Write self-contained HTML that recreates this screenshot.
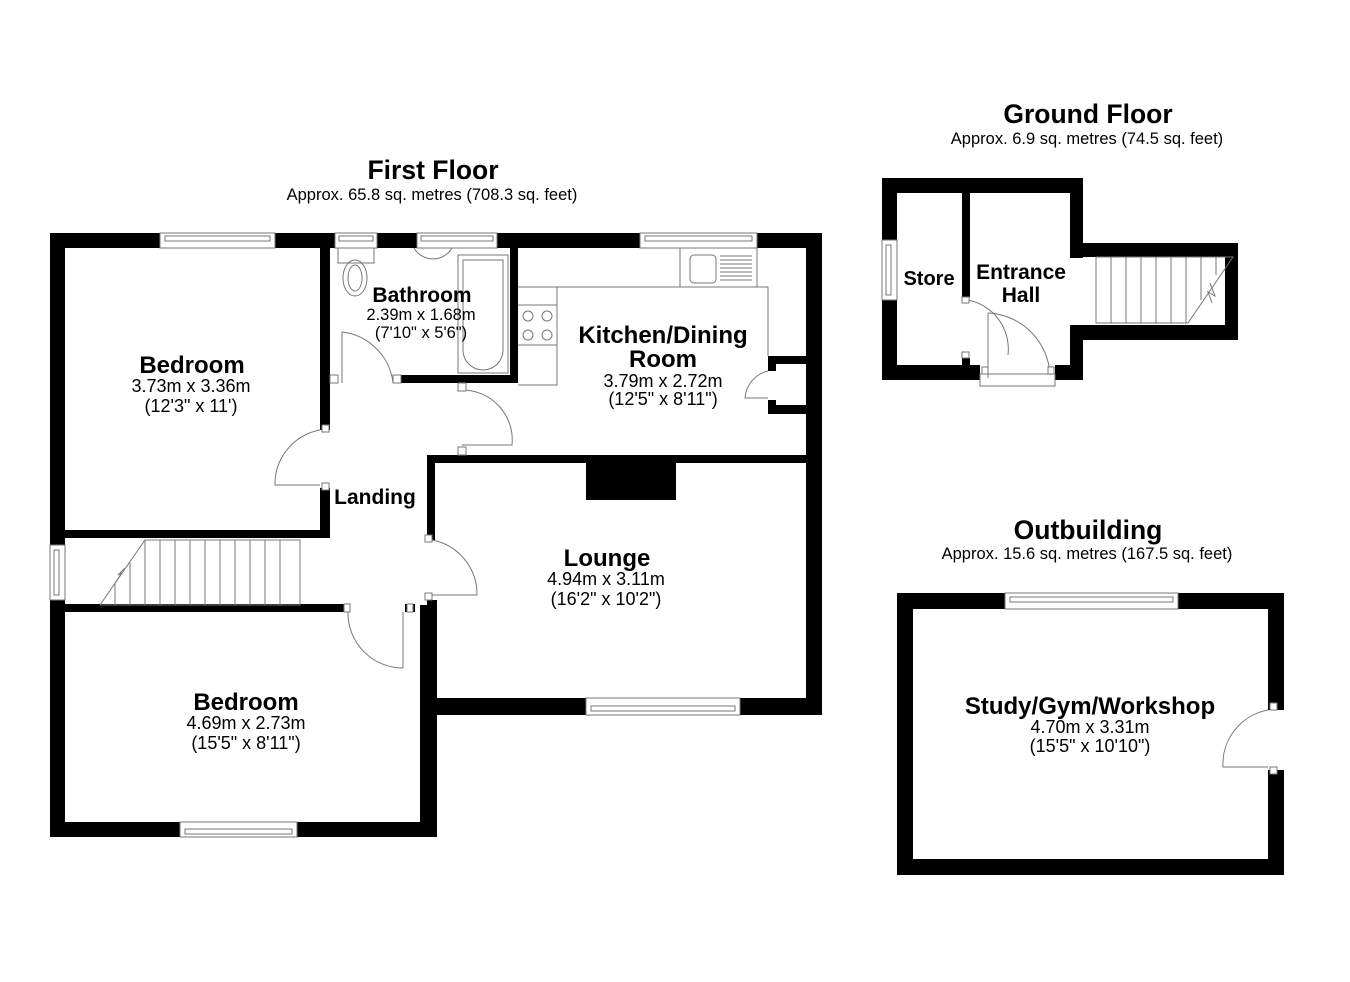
<!DOCTYPE html>
<html><head><meta charset="utf-8"><style>
html,body{margin:0;padding:0;background:#fff;}
svg{display:block;font-family:"Liberation Sans",Arial,sans-serif;}
.t{font-weight:bold;font-size:24px;text-anchor:middle;}
.s{font-size:18px;text-anchor:middle;}
.h{font-weight:bold;font-size:26.5px;text-anchor:middle;}
.l{fill:none;stroke:#777;stroke-width:1;}
</style></head><body>
<svg width="1350" height="982" viewBox="0 0 1350 982">
<rect width="1350" height="982" fill="#fff"/>
<!-- Headings -->
<text x="433" y="179" class="h">First Floor</text>
<text x="432" y="200" class="s" style="font-size:16.5px">Approx. 65.8 sq. metres (708.3 sq. feet)</text>
<text x="1088" y="123" class="h">Ground Floor</text>
<text x="1087" y="144" class="s" style="font-size:16.5px">Approx. 6.9 sq. metres (74.5 sq. feet)</text>
<text x="1088" y="539" class="h">Outbuilding</text>
<text x="1087" y="559" class="s" style="font-size:16.5px">Approx. 15.6 sq. metres (167.5 sq. feet)</text>

<g fill="#000">
<rect x="50" y="233" width="772" height="15"/>
<rect x="50" y="233" width="15" height="312"/>
<rect x="50" y="600" width="15" height="237"/>
<rect x="806" y="233" width="16" height="482"/>
<rect x="427" y="698" width="395" height="17"/>
<rect x="420" y="605" width="17" height="232"/>
<rect x="50" y="822" width="387" height="15"/>
<rect x="320" y="248" width="10" height="182"/>
<rect x="320" y="488" width="10" height="50"/>
<rect x="65" y="530" width="265" height="8"/>
<rect x="65" y="604" width="280" height="8"/>
<rect x="405" y="604" width="10" height="8"/>
<rect x="400" y="375" width="118" height="8"/>
<rect x="510" y="248" width="8" height="135"/>
<rect x="427" y="455" width="379" height="8"/>
<rect x="427" y="455" width="8" height="85"/>
<rect x="427" y="600" width="10" height="15"/>
<rect x="586" y="463" width="90" height="37"/>
<rect x="768" y="356" width="38" height="8"/>
<rect x="768" y="405" width="38" height="9"/>
<rect x="768" y="356" width="8" height="15"/>
<rect x="768" y="400" width="8" height="14"/>
<rect x="882" y="178" width="201" height="15"/>
<rect x="882" y="178" width="15" height="62"/>
<rect x="882" y="300" width="15" height="80"/>
<rect x="882" y="365" width="98" height="15"/>
<rect x="1055" y="365" width="28" height="15"/>
<rect x="1070" y="178" width="13" height="80"/>
<rect x="1070" y="325" width="13" height="55"/>
<rect x="1070" y="243" width="168" height="14"/>
<rect x="1225" y="243" width="13" height="97"/>
<rect x="1070" y="325" width="168" height="15"/>
<rect x="962" y="193" width="8" height="104"/>
<rect x="962" y="358" width="8" height="10"/>
<rect x="897" y="593" width="387" height="16"/>
<rect x="897" y="593" width="16" height="282"/>
<rect x="897" y="859" width="387" height="16"/>
<rect x="1268" y="593" width="16" height="117"/>
<rect x="1268" y="770" width="16" height="105"/>
</g>

<g fill="#fff" stroke="#777" stroke-width="1">
<rect x="160" y="233" width="115" height="15"/><rect x="165" y="236" width="105" height="5"/>
<rect x="335" y="233" width="42" height="15"/><rect x="339" y="236" width="34" height="5"/>
<rect x="417" y="233" width="80" height="15"/><rect x="421" y="236" width="72" height="5"/>
<rect x="640" y="233" width="117" height="15"/><rect x="645" y="236" width="107" height="5"/>
<rect x="180" y="822" width="117" height="15"/><rect x="185" y="829" width="107" height="5"/>
<rect x="586" y="698" width="154" height="17"/><rect x="591" y="706" width="144" height="5"/>
<rect x="50" y="545" width="15" height="55"/><rect x="54" y="550" width="5" height="45"/>
<rect x="882" y="240" width="15" height="60"/><rect x="886" y="245" width="5" height="50"/>
<rect x="980" y="374" width="75" height="12"/>
<rect x="1005" y="593" width="173" height="16"/><rect x="1010" y="597" width="163" height="5"/>
</g>

<g class="l">
<rect x="338" y="248" width="36" height="15"/>
<ellipse cx="355" cy="278" rx="12" ry="18"/><ellipse cx="355" cy="278" rx="7" ry="13"/>
<path d="M414 248 A22 22 0 0 0 452 248"/>
<rect x="458" y="255" width="50" height="118"/>
<path d="M463 260 L503 260 L503 350 A20 20 0 0 1 463 350 Z"/>
<rect x="680" y="248" width="77" height="39"/>
<rect x="690" y="255" width="26" height="28" rx="4"/>
<path d="M720 256h32M720 260h32M720 264h32M720 268h32M720 272h32M720 276h32M720 280h32"/>
<path d="M518 287 H768 V356 M557 287 V385 H518 M518 305 H557 M518 345 H557"/>
<circle cx="528" cy="316" r="5"/><circle cx="547" cy="316" r="5"/><circle cx="528" cy="335" r="5"/><circle cx="547" cy="335" r="5"/>
<path d="M342 383 V332 A58 58 0 0 1 393 383"/>
<path d="M320 430 A55 55 0 0 0 275 485 H320"/>
<path d="M462 390 A50 50 0 0 1 512 445 H462"/>
<path d="M432 540 A55 55 0 0 1 477 595 H432"/>
<path d="M348 612 A55 55 0 0 0 403 668 V612"/>
<path d="M768 371 A30 30 0 0 0 745 398 H768"/>
<path d="M968 300 A50 50 0 0 1 1008 355"/>
<path d="M988 313 A65 65 0 0 1 1050 375 M988 313 V378"/>
<path d="M1268 710 A55 55 0 0 0 1223 767 H1268"/>
<path d="M100 605 L145 540 H300 V605 H100"/>
<path d="M160 540V605M175 540V605M190 540V605M205 540V605M220 540V605M235 540V605M250 540V605M265 540V605M280 540V605M145 540V605M130 563V605M115 583V605"/>
<path d="M115 583 L122 573 L118 575 L125 568"/>
<path d="M1096 257 V323 H1188 L1233 257 H1096"/>
<path d="M1111 257V323M1126 257V323M1141 257V323M1156 257V323M1171 257V323M1186 257V323M1201 257V300M1216 257V275"/>
<path d="M1210 283 L1215 296 L1208 292 L1212 303"/>
</g>
<g fill="#fff" stroke="#777" stroke-width="1">
<rect x="330" y="375" width="8" height="8"/><rect x="393" y="375" width="8" height="8"/>
<rect x="322" y="425" width="7" height="7"/><rect x="322" y="483" width="7" height="7"/>
<rect x="458" y="383" width="8" height="8"/><rect x="458" y="447" width="8" height="8"/>
<rect x="425" y="535" width="7" height="7"/><rect x="425" y="593" width="7" height="7"/>
<rect x="344" y="604" width="6" height="8"/><rect x="407" y="604" width="6" height="8"/>
<rect x="962" y="297" width="7" height="6"/><rect x="962" y="352" width="7" height="6"/>
<rect x="982" y="367" width="6" height="7"/><rect x="1048" y="367" width="6" height="7"/>
<rect x="1270" y="703" width="7" height="7"/><rect x="1270" y="767" width="7" height="7"/>
</g>

<text x="192" y="373" class="t">Bedroom</text>
<text x="191" y="392" class="s">3.73m x 3.36m</text>
<text x="191" y="412" class="s">(12'3" x 11')</text>
<text x="422" y="302" class="t" style="font-size:21px">Bathroom</text>
<text x="421" y="320" class="s" style="font-size:16.5px">2.39m x 1.68m</text>
<text x="421" y="338" class="s" style="font-size:16.5px">(7'10" x 5'6")</text>
<text x="663" y="343" class="t">Kitchen/Dining</text>
<text x="663" y="367" class="t">Room</text>
<text x="663" y="387" class="s">3.79m x 2.72m</text>
<text x="663" y="405" class="s">(12'5" x 8'11")</text>
<text x="375" y="504" class="t" style="font-size:21px">Landing</text>
<text x="607" y="566" class="t">Lounge</text>
<text x="606" y="585" class="s">4.94m x 3.11m</text>
<text x="606" y="605" class="s">(16'2" x 10'2")</text>
<text x="246" y="710" class="t">Bedroom</text>
<text x="246" y="729" class="s">4.69m x 2.73m</text>
<text x="246" y="749" class="s">(15'5" x 8'11")</text>
<text x="929" y="285" class="t" style="font-size:20px">Store</text>
<text x="1021" y="279" class="t" style="font-size:21px">Entrance</text>
<text x="1021" y="302" class="t" style="font-size:21px">Hall</text>
<text x="1090" y="714" class="t">Study/Gym/Workshop</text>
<text x="1090" y="733" class="s">4.70m x 3.31m</text>
<text x="1090" y="752" class="s">(15'5" x 10'10")</text>
</svg>
</body></html>
